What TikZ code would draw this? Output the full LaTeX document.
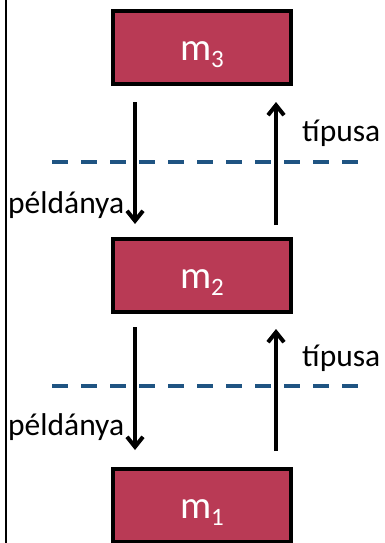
\documentclass[tikz,border=0pt]{standalone}
\usepackage{fontspec}
\setmainfont{Carlito}
\usetikzlibrary{arrows.meta}
\definecolor{boxred}{RGB}{185,58,85}
\definecolor{lineblue}{RGB}{31,84,130}
\newcommand{\mname}[1]{m\raisebox{-7pt}{\fontsize{25}{25}\selectfont #1}}
\begin{document}
\begin{tikzpicture}
[x=1pt,y=-1pt,
 box/.style=
   {rectangle,draw=black,line width=4pt,fill=boxred,minimum width=178pt,
    minimum height=73pt,inner sep=0pt,text height=30pt,text depth=4pt,
    text=white,font=\fontsize{39}{39}\selectfont},
 lbl/.style={inner sep=0pt,anchor=base west,font=\fontsize{31.5}{31.5}\selectfont},
 arr/.style={line width=4pt,-{Straight Barb[length=10pt,width=16pt]}},
 divider/.style={draw=lineblue,line width=3.5pt,dash pattern=on 16pt off 13pt}]
\useasboundingbox (0,0) rectangle (384,543);
\draw [line width=2pt] (6,0) -- (6,543);
\node [box] (m3) at (202,47.5) {\mname{3}};
\node [box] (m2) at (202,275.5) {\mname{2}};
\node [box] (m1) at (202,505.5) {\mname{1}};
\coordinate (d1) at (52,162);
\coordinate (d2) at (52,386);
\draw [divider] (d1) -- ++(308,0);
\draw [divider] (d2) -- ++(308,0);
\draw [arr] ([xshift=-67pt,yshift=-16pt]m3.south) -- ([xshift=-67pt,yshift=13pt]m2.north);
\draw [arr] ([xshift=74pt,yshift=12pt]m2.north) -- ([xshift=74pt,yshift=-16pt]m3.south);
\draw [arr] ([xshift=-67pt,yshift=-13pt]m2.south) -- ([xshift=-67pt,yshift=17pt]m1.north);
\draw [arr] ([xshift=74pt,yshift=16pt]m1.north) -- ([xshift=74pt,yshift=-15pt]m2.south);
\node [lbl] (p1) at (8,213) {példánya};
\node [lbl] (t1) at (302,141.7) {típusa};
\node [lbl] (p2) at (8,435.7) {példánya};
\node [lbl] (t2) at (302,366) {típusa};
\end{tikzpicture}
\end{document}
